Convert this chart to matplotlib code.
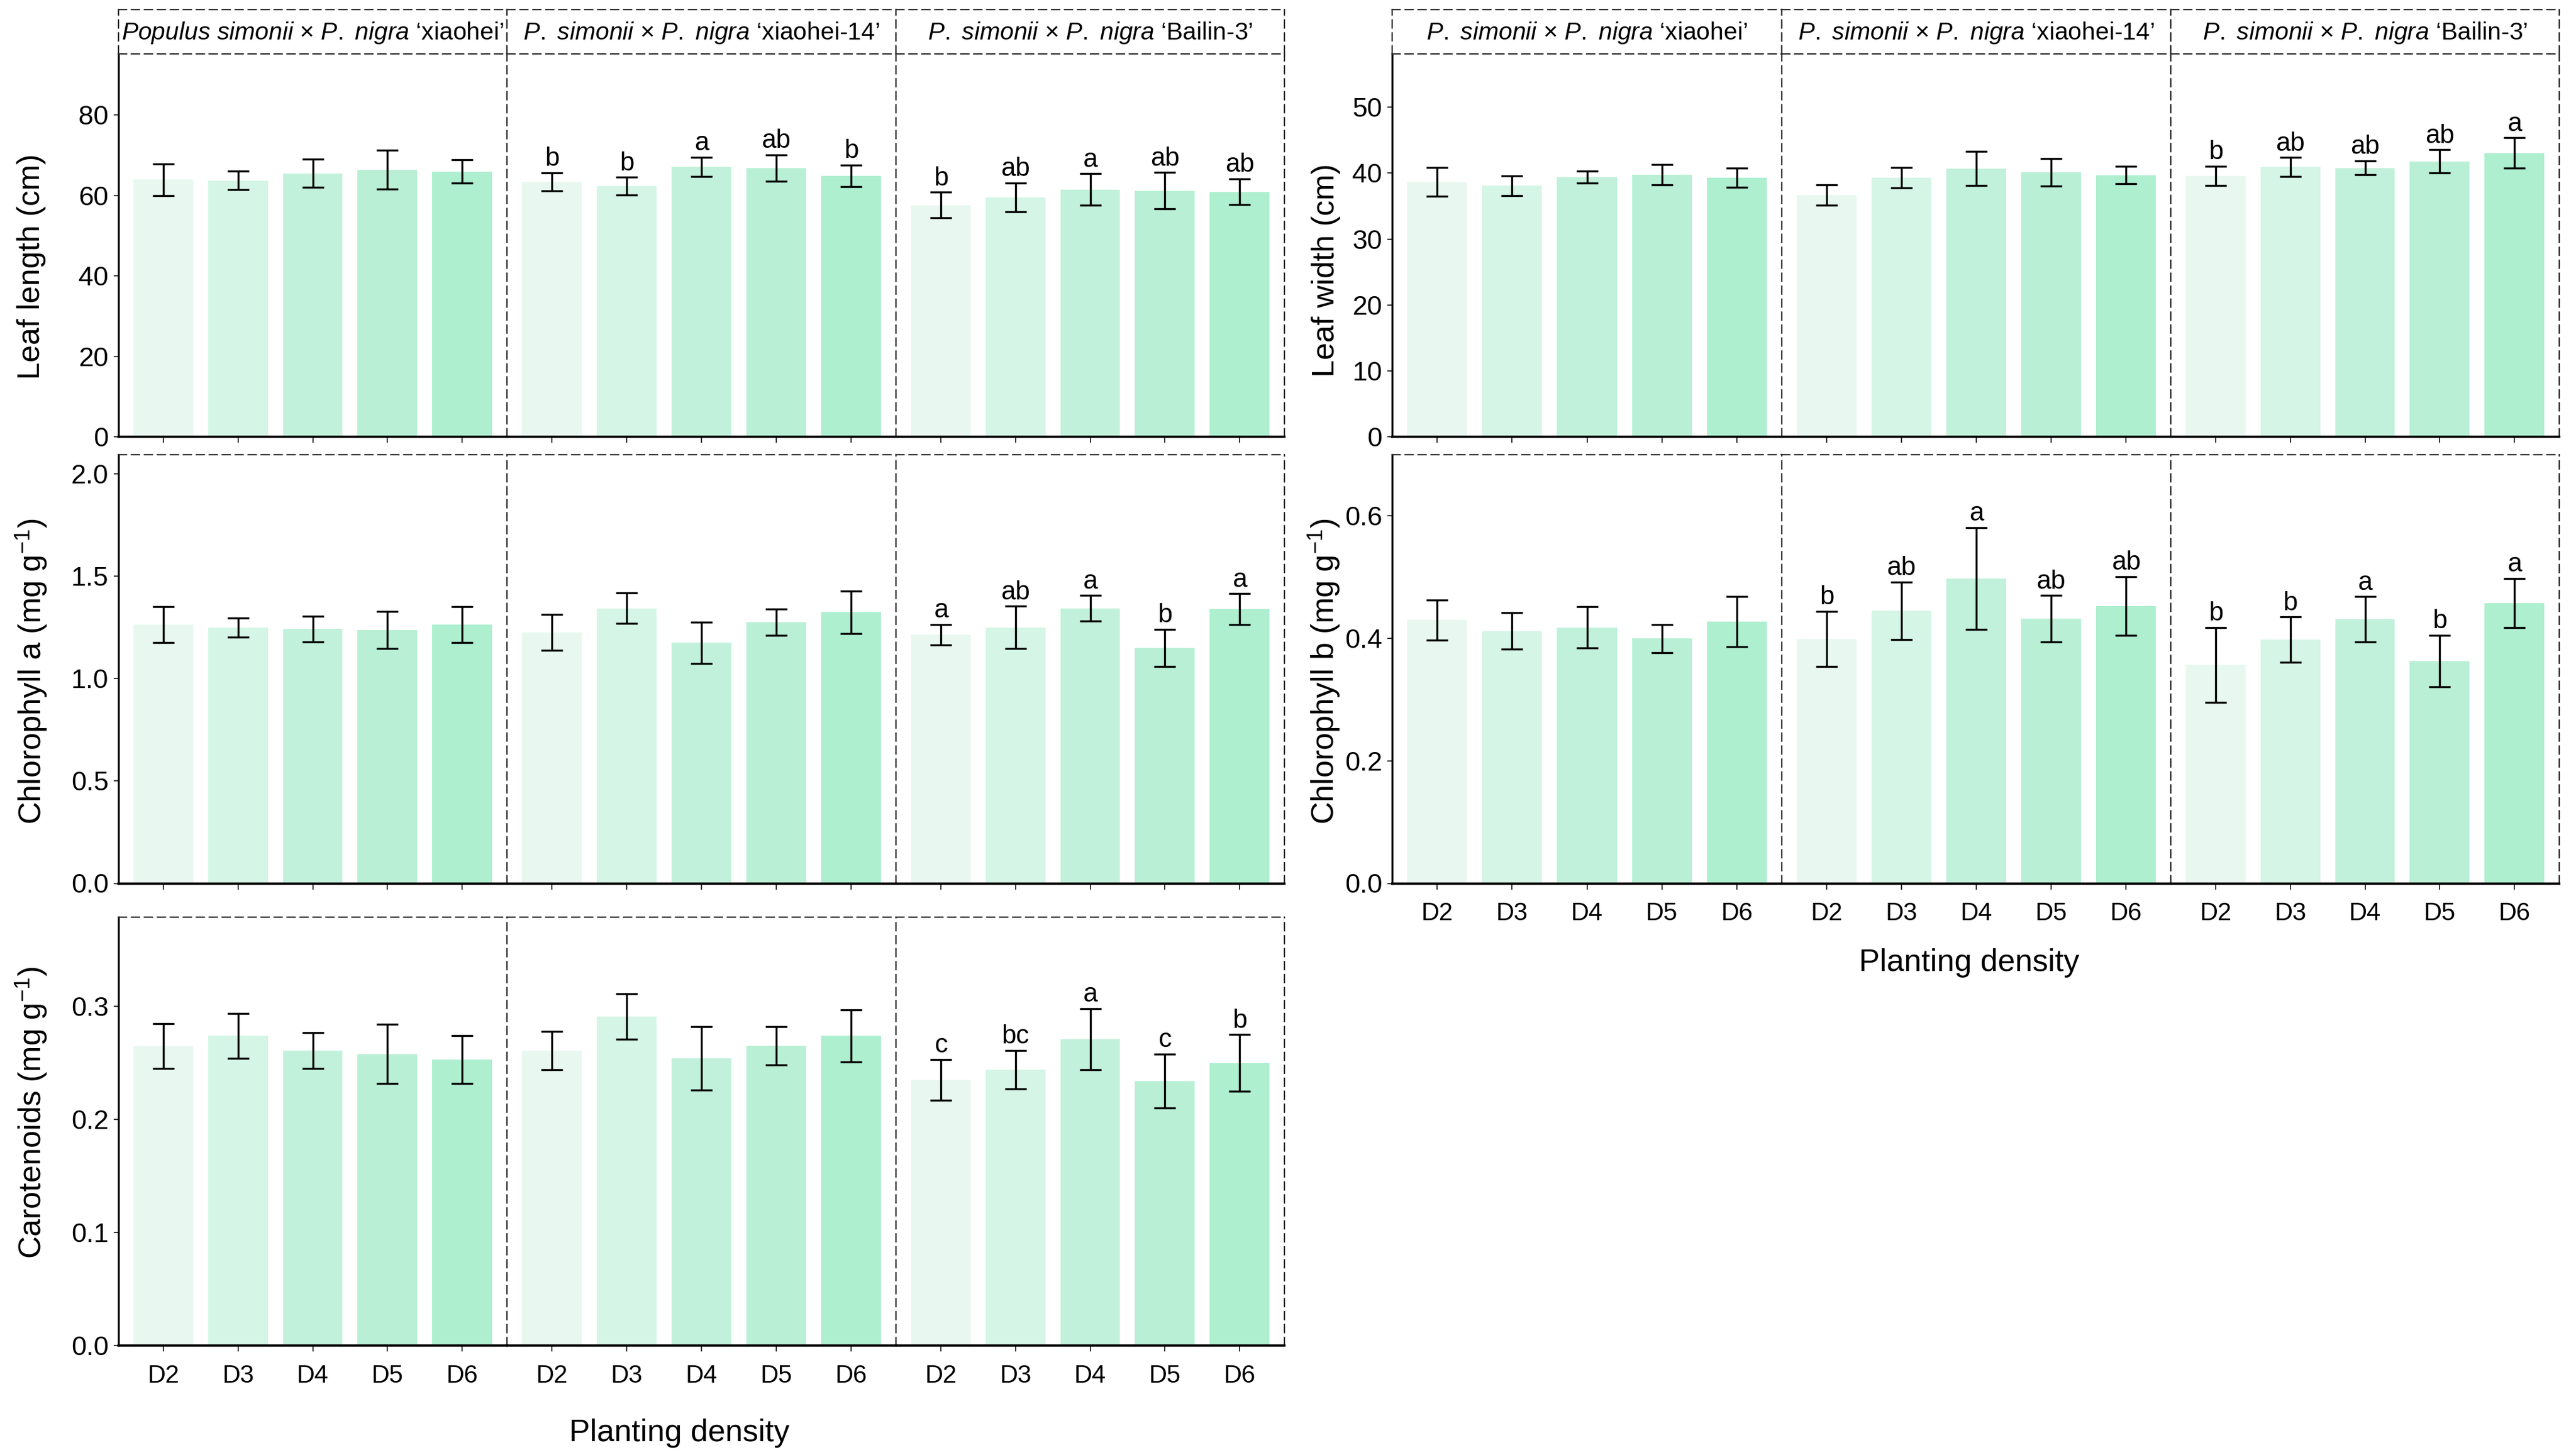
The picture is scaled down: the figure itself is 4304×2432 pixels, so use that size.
import matplotlib
matplotlib.use('Agg')
import matplotlib.pyplot as plt
import numpy as np

plt.rcParams['font.family'] = ['Liberation Sans', 'DejaVu Sans']
plt.rcParams['mathtext.fontset'] = 'custom'
plt.rcParams['mathtext.rm'] = 'Liberation Sans'
plt.rcParams['mathtext.it'] = 'Liberation Sans:italic'
plt.rcParams['mathtext.bf'] = 'Liberation Sans:bold'
plt.rcParams['lines.scale_dashes'] = False

# ---------------- data ----------------
densities = ['D2', 'D3', 'D4', 'D5', 'D6']
strip_left = [r'$\mathit{Populus}$ $\mathit{simonii}$ × $\mathit{P.}$ $\mathit{nigra}$ ‘xiaohei’',
              r'$\mathit{P.}$ $\mathit{simonii}$ × $\mathit{P.}$ $\mathit{nigra}$ ‘xiaohei-14’',
              r'$\mathit{P.}$ $\mathit{simonii}$ × $\mathit{P.}$ $\mathit{nigra}$ ‘Bailin-3’']
strip_right = [r'$\mathit{P.}$ $\mathit{simonii}$ × $\mathit{P.}$ $\mathit{nigra}$ ‘xiaohei’',
               r'$\mathit{P.}$ $\mathit{simonii}$ × $\mathit{P.}$ $\mathit{nigra}$ ‘xiaohei-14’',
               r'$\mathit{P.}$ $\mathit{simonii}$ × $\mathit{P.}$ $\mathit{nigra}$ ‘Bailin-3’']
bar_colors = ['#E8F8F0', '#D5F5E6', '#C2F1DB', '#B9F0D5', '#AEEFCF']

leaf_length_mean = [63.9, 63.7, 65.5, 66.4, 65.9, 63.4, 62.3, 67.1, 66.8, 64.9, 57.6, 59.5, 61.5, 61.2, 60.9]
leaf_length_sd = [4.0, 2.3, 3.5, 4.8, 2.9, 2.2, 2.2, 2.4, 3.3, 2.7, 3.2, 3.6, 3.9, 4.5, 3.2]
leaf_length_letters = ['', '', '', '', '', 'b', 'b', 'a', 'ab', 'b', 'b', 'ab', 'a', 'ab', 'ab']

chl_a_mean = [1.264, 1.249, 1.243, 1.237, 1.264, 1.226, 1.344, 1.175, 1.276, 1.325, 1.214, 1.250, 1.344, 1.151, 1.339]
chl_a_sd = [0.089, 0.047, 0.063, 0.091, 0.088, 0.087, 0.075, 0.100, 0.065, 0.104, 0.050, 0.104, 0.062, 0.091, 0.076]
chl_a_letters = ['', '', '', '', '', '', '', '', '', '', 'a', 'ab', 'a', 'b', 'a']

carot_mean = [0.265, 0.274, 0.261, 0.258, 0.253, 0.261, 0.291, 0.254, 0.265, 0.274, 0.235, 0.244, 0.271, 0.234, 0.250]
carot_sd = [0.020, 0.020, 0.016, 0.026, 0.021, 0.017, 0.020, 0.028, 0.017, 0.023, 0.018, 0.017, 0.027, 0.024, 0.025]
carot_letters = ['', '', '', '', '', '', '', '', '', '', 'c', 'bc', 'a', 'c', 'b']

leaf_width_mean = [38.65, 38.1, 39.4, 39.8, 39.3, 36.7, 39.3, 40.7, 40.1, 39.7, 39.6, 40.9, 40.8, 41.8, 43.05]
leaf_width_sd = [2.2, 1.5, 0.95, 1.55, 1.45, 1.55, 1.55, 2.6, 2.1, 1.3, 1.45, 1.45, 1.05, 1.75, 2.3]
leaf_width_letters = ['', '', '', '', '', '', '', '', '', '', 'b', 'ab', 'ab', 'ab', 'a']

chl_b_mean = [0.430, 0.412, 0.418, 0.400, 0.427, 0.399, 0.445, 0.498, 0.432, 0.453, 0.357, 0.398, 0.431, 0.363, 0.458]
chl_b_sd = [0.033, 0.030, 0.034, 0.023, 0.041, 0.045, 0.047, 0.083, 0.038, 0.048, 0.061, 0.037, 0.037, 0.042, 0.040]
chl_b_letters = ['', '', '', '', '', 'b', 'ab', 'a', 'ab', 'ab', 'b', 'b', 'a', 'b', 'a']

# ---------------- layout ----------------
W, H = 4304, 2432
DPI = 300
fig = plt.figure(figsize=(W / DPI, H / DPI), dpi=DPI)


def fx(x):
    return x / W


def fy(y):
    return 1 - y / H


left_edges = [198, 847, 1497, 2146]
right_edges = [2326, 2977, 3627, 4276]
rows = [(90, 730), (760, 1476.5), (1533, 2249)]
strip_y = (15.5, 90)
DASH = (0, (3.2, 2.0))
DCOL = '#2a2a2a'


def panel(edges, row, mean, sd, letters, ylim, yticks, yfmt, xlabels, strips=None):
    y0, y1 = rows[row]
    for f in range(3):
        x0, x1 = edges[f], edges[f + 1]
        ax = fig.add_axes([fx(x0), fy(y1), (x1 - x0) / W, (y1 - y0) / H])
        sl = slice(5 * f, 5 * f + 5)
        m = np.array(mean[sl])
        s = np.array(sd[sl])
        xs = np.arange(5)
        ax.bar(xs, m, width=0.8, color=bar_colors, edgecolor='none', zorder=1)
        ax.errorbar(xs, m, yerr=s, fmt='none', ecolor='black', elinewidth=0.8,
                    capsize=4.4, capthick=0.8, zorder=2)
        for xi, mi, si, lt in zip(xs, m, s, letters[sl]):
            if lt:
                ax.annotate(lt, (xi, mi + si), xytext=(0, 2.8), textcoords='offset points',
                            ha='center', va='baseline', fontsize=10.5)
        ax.set_xlim(-0.6, 4.6)
        ax.set_ylim(*ylim)
        ax.set_xticks(xs)
        ax.tick_params(axis='x', length=2.4, width=0.5, color='#333333', pad=5,
                       labelsize=10, labelbottom=xlabels)
        if xlabels:
            ax.set_xticklabels(densities)
        if f == 0:
            ax.set_yticks(yticks)
            ax.set_yticklabels([yfmt.format(v) for v in yticks])
            ax.tick_params(axis='y', length=2.0, width=0.5, color='#333333', pad=2,
                           labelsize=10.8)
            ax.spines['left'].set_linewidth(0.8)
            ax.spines['left'].set_color('black')
        else:
            ax.set_yticks([])
            ax.spines['left'].set_visible(False)
        ax.spines['bottom'].set_linewidth(0.9)
        ax.spines['bottom'].set_color('black')
        for sp in ('top', 'right'):
            ax.spines[sp].set_linestyle(DASH)
            ax.spines[sp].set_linewidth(0.55)
            ax.spines[sp].set_color(DCOL)
        ax.set_facecolor('none')
        if strips is not None:
            sa = fig.add_axes([fx(x0), fy(strip_y[1]), (x1 - x0) / W,
                               (strip_y[1] - strip_y[0]) / H])
            sa.set_xticks([])
            sa.set_yticks([])
            sa.set_xlim(0, 1)
            sa.set_ylim(0, 1)
            for sp in sa.spines.values():
                sp.set_linestyle(DASH)
                sp.set_linewidth(0.55)
                sp.set_color(DCOL)
            sa.text(0.5, 0.47, strips[f], ha='center', va='center', fontsize=9.8,
                    transform=sa.transAxes, clip_on=True)


panel(left_edges, 0, leaf_length_mean, leaf_length_sd, leaf_length_letters,
      (0, 95.2), [0, 20, 40, 60, 80], '{:.0f}', False, strips=strip_left)
panel(left_edges, 1, chl_a_mean, chl_a_sd, chl_a_letters,
      (0, 2.094), [0.0, 0.5, 1.0, 1.5, 2.0], '{:.1f}', False)
panel(left_edges, 2, carot_mean, carot_sd, carot_letters,
      (0, 0.379), [0.0, 0.1, 0.2, 0.3], '{:.1f}', True)
panel(right_edges, 0, leaf_width_mean, leaf_width_sd, leaf_width_letters,
      (0, 58.1), [0, 10, 20, 30, 40, 50], '{:.0f}', False, strips=strip_right)
panel(right_edges, 1, chl_b_mean, chl_b_sd, chl_b_letters,
      (0, 0.700), [0.0, 0.2, 0.4, 0.6], '{:.1f}', True)

# y-axis titles
ylab_fs = 12.5
fig.text(fx(53), fy(446), 'Leaf length (cm)', rotation=90, ha='center', va='center', fontsize=ylab_fs)
fig.text(fx(53), fy(1122), r'Chlorophyll a (mg g$^{-1}$)', rotation=90, ha='center', va='center', fontsize=ylab_fs)
fig.text(fx(53), fy(1860), r'Carotenoids (mg g$^{-1}$)', rotation=90, ha='center', va='center', fontsize=ylab_fs)
fig.text(fx(2215), fy(452), 'Leaf width (cm)', rotation=90, ha='center', va='center', fontsize=ylab_fs)
fig.text(fx(2213), fy(1122), r'Chlorophyll b (mg g$^{-1}$)', rotation=90, ha='center', va='center', fontsize=ylab_fs)

# x-axis titles
fig.text(fx(1135), fy(2395), 'Planting density', ha='center', va='center', fontsize=12.5)
fig.text(fx(3290), fy(1610), 'Planting density', ha='center', va='center', fontsize=12.5)

fig.savefig('out.png', dpi=DPI)
